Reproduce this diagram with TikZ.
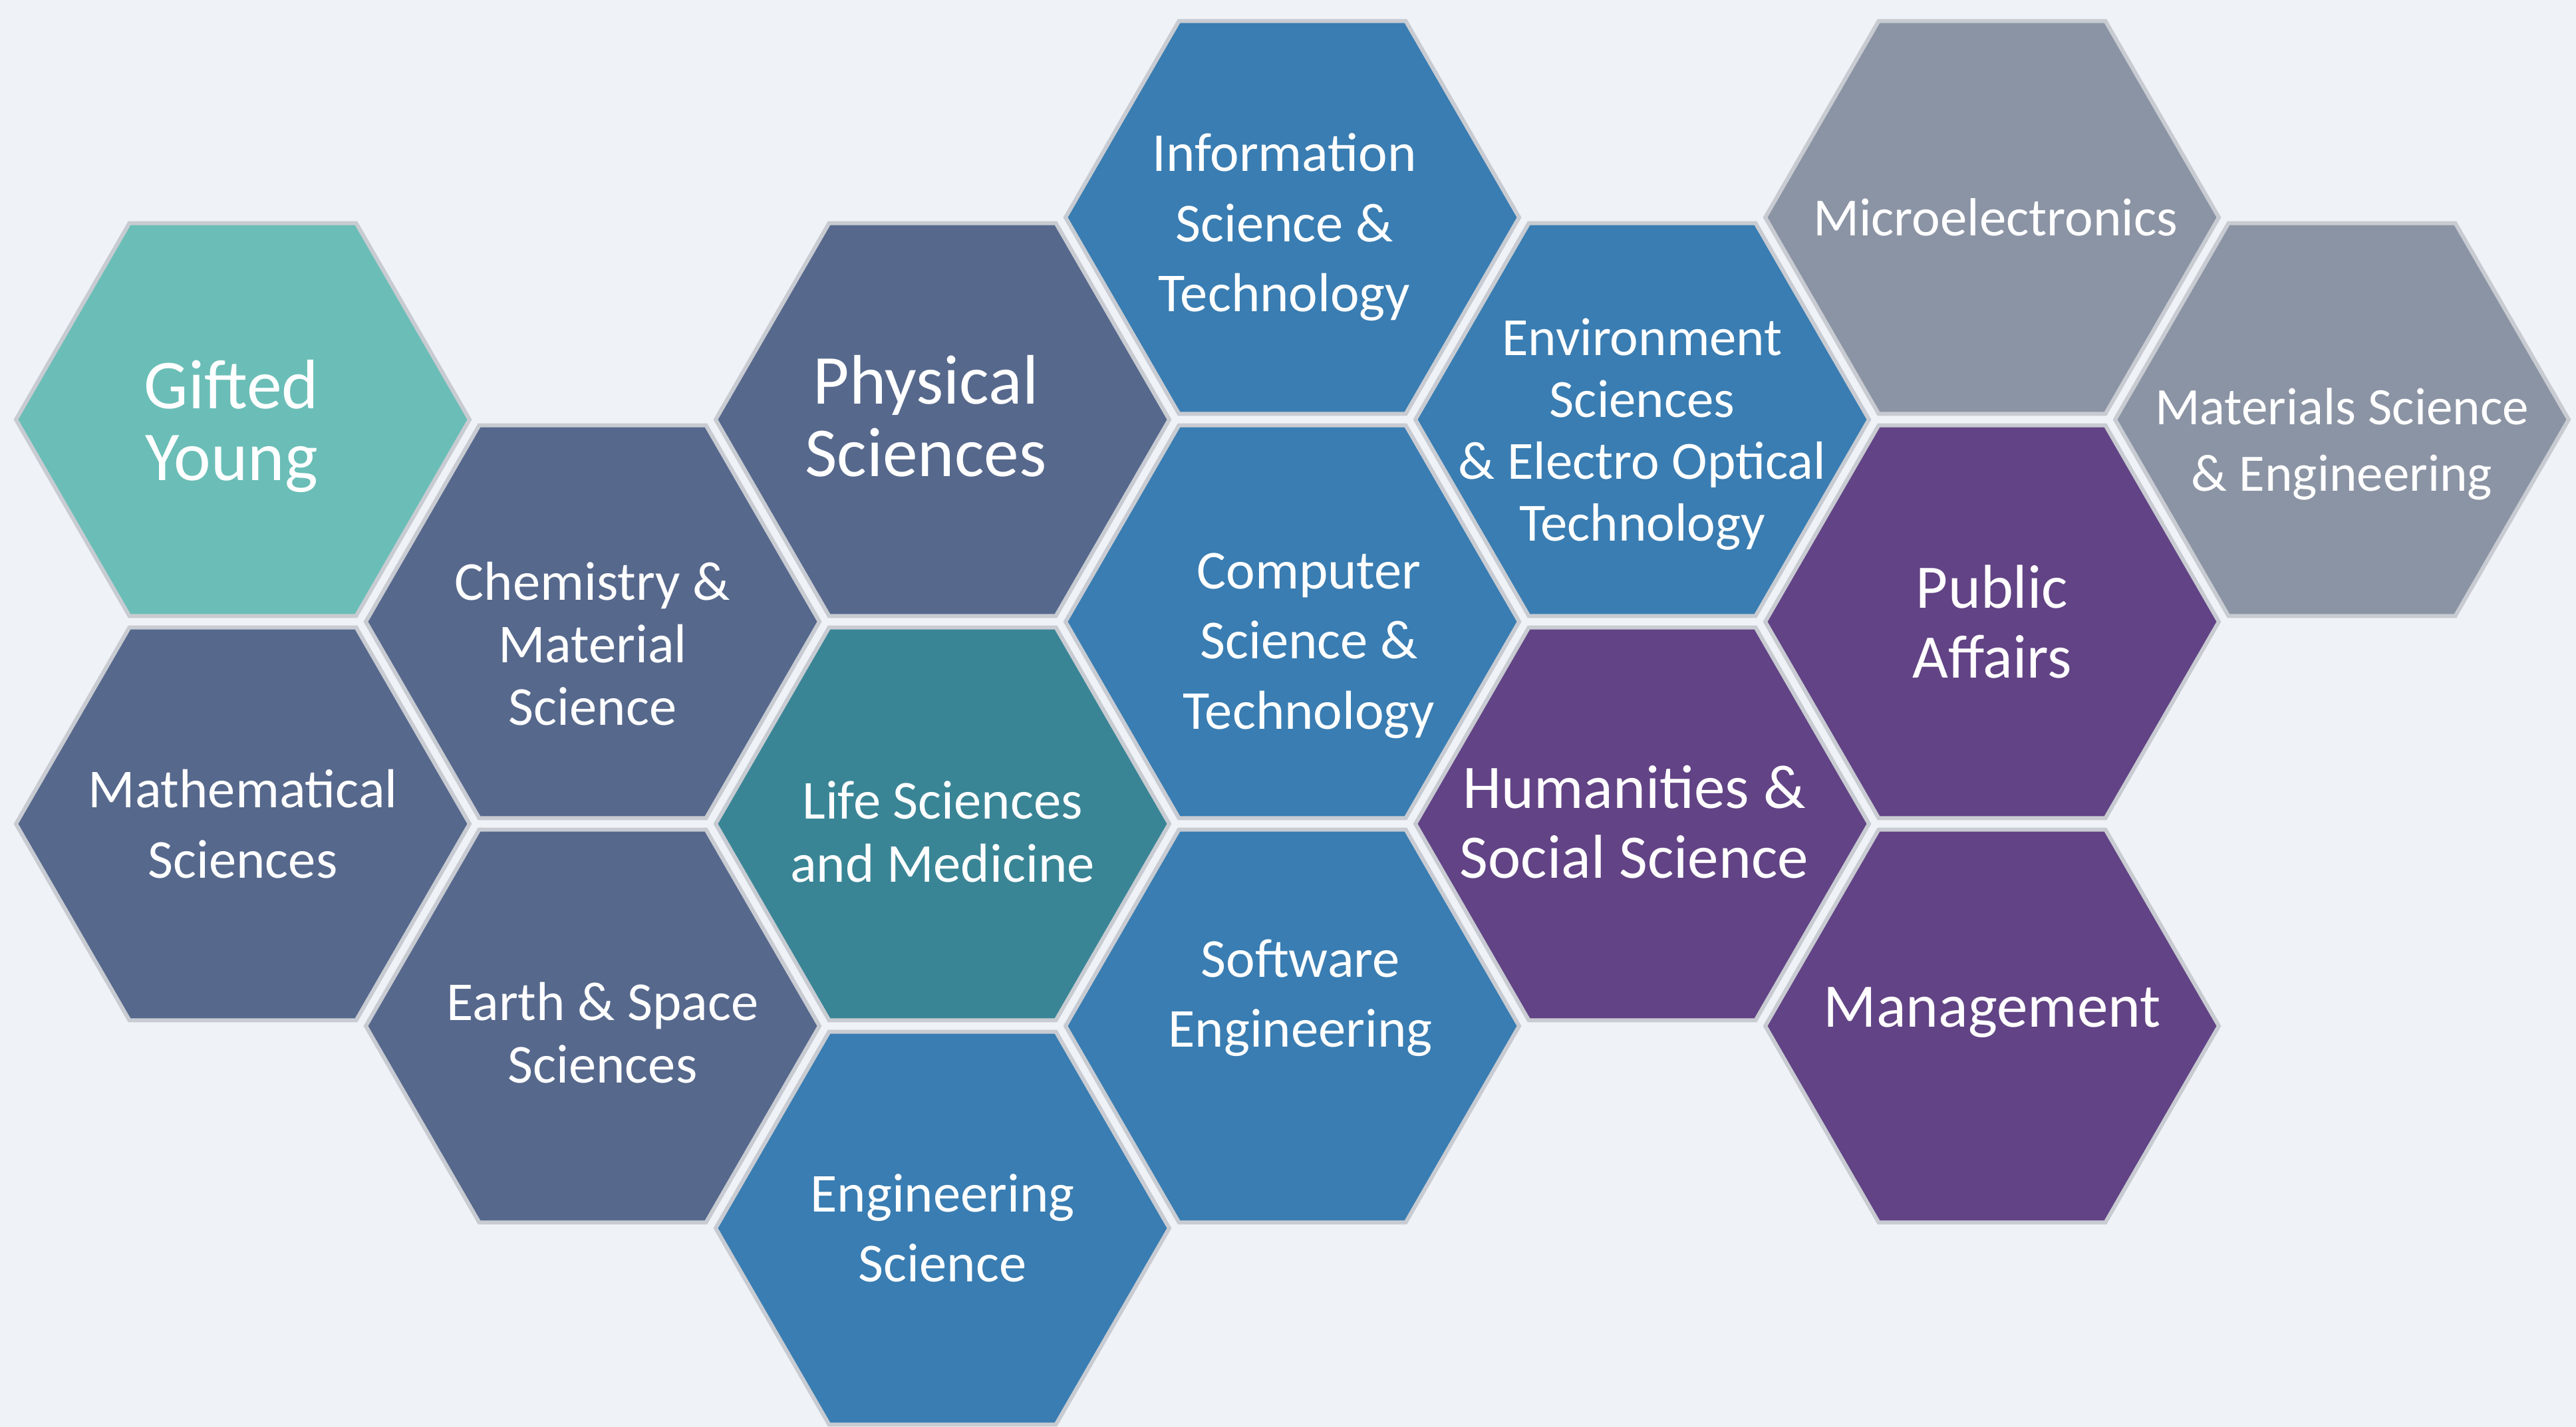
\documentclass[tikz,border=0pt]{standalone}
\usepackage{fontspec}
\setmainfont{Carlito}
\usetikzlibrary{shapes.geometric}
\definecolor{bgcol}{RGB}{239,243,247}
\definecolor{hexedge}{RGB}{200,204,210}
\definecolor{giftedcol}{RGB}{106,190,183}
\definecolor{slatecol}{RGB}{86,104,140}
\definecolor{lifecol}{RGB}{57,133,150}
\definecolor{bluecol}{RGB}{57,125,178}
\definecolor{purplecol}{RGB}{98,67,133}
\definecolor{greycol}{RGB}{139,148,164}
\tikzset{%
  hexa/.style={regular polygon,regular polygon sides=6,minimum size=6.82cm,
    inner sep=0pt,draw=hexedge,line width=0.06cm},
  gifted/.style={hexa,fill=giftedcol},
  slate/.style={hexa,fill=slatecol},
  life/.style={hexa,fill=lifecol},
  blue/.style={hexa,fill=bluecol},
  purple/.style={hexa,fill=purplecol},
  grey/.style={hexa,fill=greycol},
  lbl/.style={text=white,align=center,inner sep=0pt,font=\fontsize{23.5}{30}\selectfont},
  tightlbl/.style={lbl,font=\fontsize{23.5}{26.8}\selectfont},
  biglbl/.style={lbl,font=\fontsize{30}{31}\selectfont},
  midlbl/.style={lbl,font=\fontsize{26.5}{30}\selectfont}
}

\begin{document}
\begin{tikzpicture}
  \fill[bgcol] (0,0) rectangle (38.73,21.46);
  \useasboundingbox (0,0) rectangle (38.73,21.46);

  % honeycomb
  \node[gifted] (gy) at (3.65,15.15) {};
  \node[slate] (ms) at (3.65,9.07) {};
  \node[slate] (cm) at (8.91,12.11) {};
  \node[slate] (es) at (8.91,6.03) {};
  \node[slate] (ps) at (14.17,15.15) {};
  \node[life] (lm) at (14.17,9.07) {};
  \node[blue] (en) at (14.17,2.99) {};
  \node[blue] (it) at (19.43,18.19) {};
  \node[blue] (cs) at (19.43,12.11) {};
  \node[blue] (se) at (19.43,6.03) {};
  \node[blue] (eo) at (24.69,15.15) {};
  \node[purple] (hs) at (24.69,9.07) {};
  \node[grey] (me) at (29.95,18.19) {};
  \node[purple] (pa) at (29.95,12.11) {};
  \node[purple] (mg) at (29.95,6.03) {};
  \node[grey] (mt) at (35.21,15.15) {};

  % labels
  \node[biglbl] (gyT) at ([xshift=-0.17cm,yshift=-0.1cm]gy.center) {Gifted\\Young};
  \node[lbl] (msT) at (ms.center) {Mathematical\\Sciences};
  \node[tightlbl] (cmT) at ([yshift=-0.33cm]cm.center) {Chemistry \&\\Material\\Science};
  \node[tightlbl] (esT) at ([xshift=0.15cm,yshift=-0.1cm]es.center) {Earth \& Space\\Sciences};
  \node[biglbl] (psT) at ([xshift=-0.25cm,yshift=0.05cm]ps.center) {Physical\\Sciences};
  \node[tightlbl] (lmT) at ([yshift=-0.12cm]lm.center) {Life Sciences\\and Medicine};
  \node[lbl] (enT) at (en.center) {Engineering\\Science};
  \node[lbl] (itT) at ([xshift=-0.12cm,yshift=-0.15cm]it.center) {Information\\Science \&\\Technology};
  \node[lbl] (csT) at ([xshift=0.25cm,yshift=-0.36cm]cs.center) {Computer\\Science \&\\Technology};
  \node[lbl] (seT) at ([xshift=0.12cm,yshift=0.42cm]se.center) {Software\\Engineering};
  \node[lbl,font=\fontsize{23}{26.5}\selectfont] (eoT) at ([yshift=-0.22cm]eo.center) {Environment\\Sciences\\\& Electro Optical\\Technology};
  \node[midlbl] (hsT) at ([xshift=-0.12cm,yshift=0.03cm]hs.center) {Humanities \&\\Social Science};
  \node[lbl,font=\fontsize{23}{28}\selectfont] (meT) at ([xshift=0.05cm]me.center) {Microelectronics};
  \node[midlbl] (paT) at (pa.center) {Public\\Affairs};
  \node[midlbl] (mgT) at ([yshift=0.2cm]mg.center) {Management};
  \node[lbl,font=\fontsize{22.5}{28.5}\selectfont] (mtT) at ([yshift=-0.37cm]mt.center) {Materials Science\\\& Engineering};
\end{tikzpicture}
\end{document}
